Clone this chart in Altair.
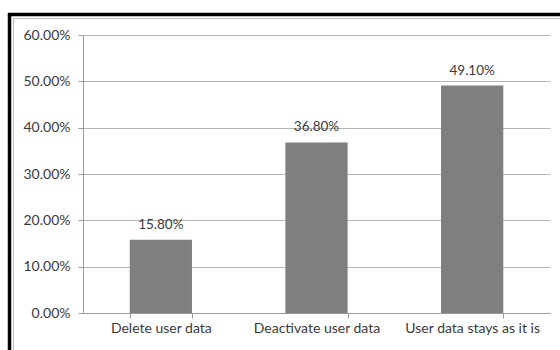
import altair as alt
import pandas as pd

categories = ["Delete user data", "Deactivate user data", "User data stays as it is"]
values = [0.158, 0.368, 0.491]
labels = ["15.80%", "36.80%", "49.10%"]

df = pd.DataFrame({"cat": categories, "val": values, "lab": labels})

FONT = "Lato"
TXT = "#3a3a3a"
W, H = 467, 278

base = alt.Chart(df)

bars = base.mark_bar(color="#7f7f7f", clip=False).encode(
    x=alt.X("cat:N", sort=categories, title=None,
            scale=alt.Scale(paddingInner=0.6, paddingOuter=0.3),
            axis=alt.Axis(labelAngle=0, labelFontSize=14, labelColor=TXT,
                          labelFont=FONT, tickBand="extent", tickSize=5,
                          tickColor="#9a9a9a", domainColor="#9a9a9a",
                          labelPadding=3, grid=False)),
    y=alt.Y("val:Q", title=None,
            scale=alt.Scale(domain=[0, 0.6], nice=False),
            axis=alt.Axis(format=".2%", values=[0, 0.1, 0.2, 0.3, 0.4, 0.5, 0.6],
                          labelFontSize=14, labelColor=TXT, labelFont=FONT,
                          tickSize=5, tickColor="#9a9a9a", domainColor="#9a9a9a",
                          gridColor="#b5b5b5", labelPadding=8)),
)

text = base.mark_text(dy=-15, fontSize=13.5, font=FONT, color=TXT).encode(
    x=alt.X("cat:N", sort=categories),
    y="val:Q",
    text="lab:N",
)

one = pd.DataFrame({"a": [0]})
top_black = alt.Chart(one).mark_rule(color="#000000", strokeWidth=3.5, clip=False).encode(
    x=alt.value(-75), x2=alt.value(W + 10), y=alt.value(-20.5))
left_black = alt.Chart(one).mark_rule(color="#000000", strokeWidth=3.5, clip=False).encode(
    x=alt.value(-73.5), y=alt.value(-22), y2=alt.value(H + 37))
top_grey = alt.Chart(one).mark_rule(color="#bdbdbd", strokeWidth=1, clip=False).encode(
    x=alt.value(-70), x2=alt.value(W + 10), y=alt.value(-16.5))
left_grey = alt.Chart(one).mark_rule(color="#bdbdbd", strokeWidth=1, clip=False).encode(
    x=alt.value(-69.5), y=alt.value(-17), y2=alt.value(H + 37))

chart = alt.layer(bars, text, top_black, left_black, top_grey, left_grey).properties(
    width=W, height=H,
    padding={"left": 83, "top": 35, "right": 10, "bottom": 37},
    autosize=alt.AutoSizeParams(type="none"),
    background="#ffffff",
).configure_view(stroke=None)

chart.save("out.html", embed_options={"renderer": "svg", "actions": False})
